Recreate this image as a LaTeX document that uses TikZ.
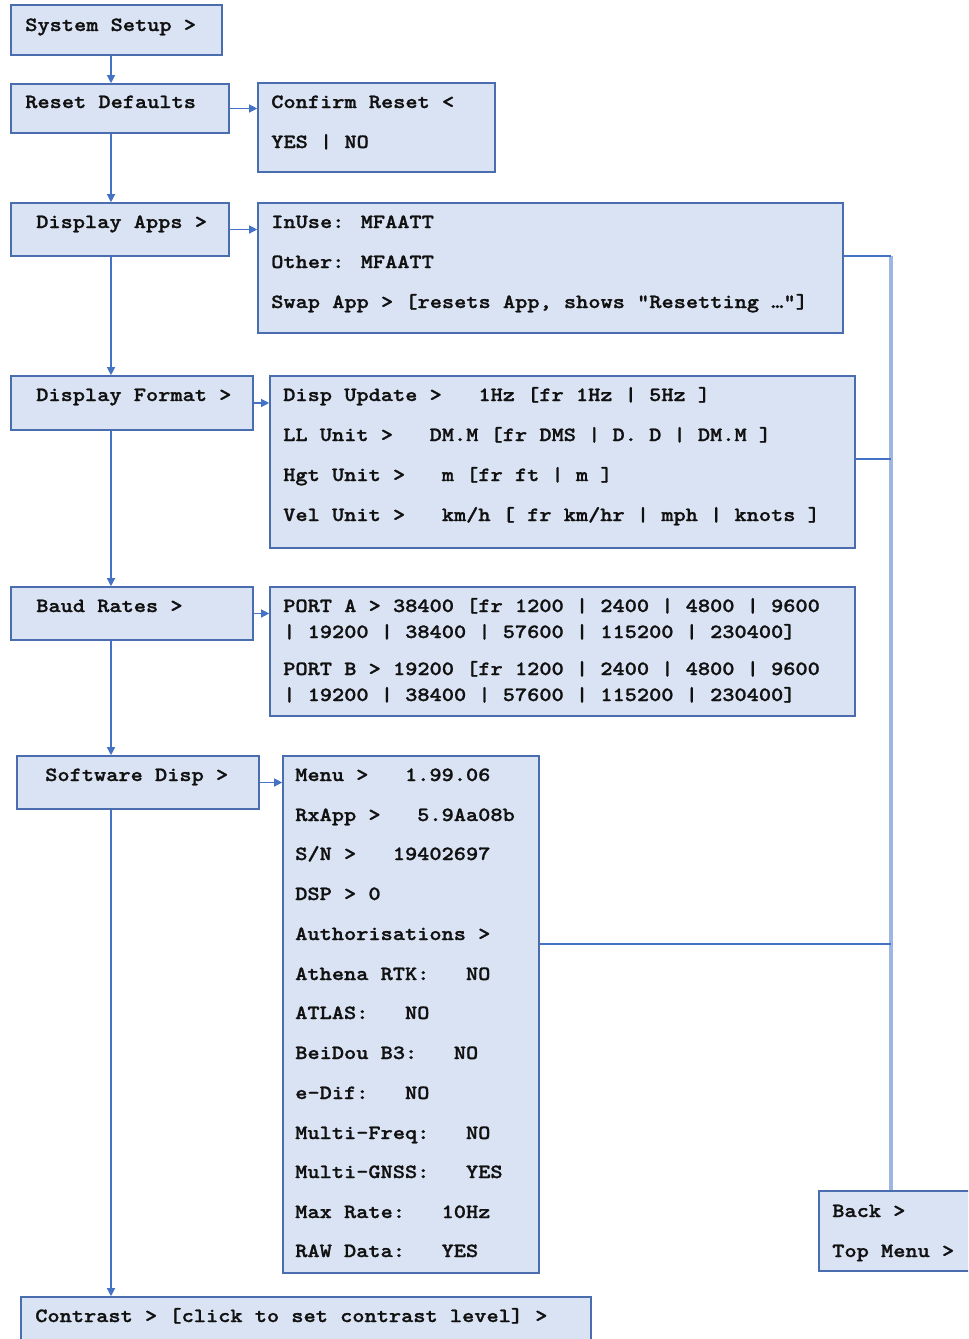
\documentclass[tikz,border=0pt]{standalone}
\usepackage{fontspec}
\newfontfamily\cour{lmmonolt10-bold.otf}[FakeStretch=1.15,FakeBold=1.2]
\usetikzlibrary{arrows.meta,fit}
\definecolor{boxc}{HTML}{DAE3F3}
\definecolor{bordc}{HTML}{4A6DB0}
\definecolor{linec}{HTML}{4472C4}
\definecolor{sidec}{HTML}{9DB7E2}
\definecolor{txtc}{HTML}{111111}
\begin{document}
\begin{tikzpicture}[x=0.75pt,y=-0.75pt,
 box/.style={draw=bordc, fill=boxc, line width=1.2pt, inner sep=0pt},
 txt/.style={anchor=base west, inner sep=0pt, font=\cour\fontsize{15.15pt}{18pt}\selectfont, text=txtc},
 conn/.style={draw=linec, line width=0.9pt, -{Triangle[length=6pt,width=6pt]}},
 side/.style={draw=sidec, line width=2.4pt},
 link/.style={draw=linec, line width=1.2pt}]
\useasboundingbox (0,0) rectangle (968,1339);
\clip (0,0) rectangle (968,1339);
\coordinate (spine) at (111,0);

% left column boxes
\node[box, fit={(11,5) (222,55)}] (ss) {};
\node[txt] (tss) at (25,31) {System Setup >};
\node[box, fit={(11,84) (229,133)}] (rd) {};
\node[txt] (trd) at (25,108) {Reset Defaults};
\node[box, fit={(11,203) (229,256)}] (da) {};
\node[txt] (tda) at (36,228) {Display Apps >};
\node[box, fit={(11,376) (253,430)}] (df) {};
\node[txt] (tdf) at (36,401) {Display Format >};
\node[box, fit={(11,587) (253,640)}] (br) {};
\node[txt] (tbr) at (36,612) {Baud Rates >};
\node[box, fit={(17,756) (259,809)}] (sd) {};
\node[txt] (tsd) at (45,781) {Software Disp >};
\node[box, fit={(21,1297) (591,1370)}] (ct) {};
\node[txt] (tct) at (35,1322) {Contrast > [click to set contrast level] >};

% right boxes
\node[box, fit={(258,83) (495,172)}] (cr) {};
\node[txt] (tcr1) at (271,108) {Confirm Reset <};
\node[txt] (tcr2) at (271,148) {YES | NO};

\node[box, fit={(258,203) (843,333)}] (ia) {};
\node[txt] (tia1) at (271,228) {InUse: MFAATT};
\node[txt] (tia2) at (271,268) {Other: MFAATT};
\node[txt] (tia3) at (271,308) {Swap App > [resets App, shows “Resetting …”]};

\node[box, fit={(270,376) (855,548)}] (dd) {};
\node[txt] (tdd1) at (283,401) {Disp Update >~~~1Hz [fr 1Hz | 5Hz ]};
\node[txt] (tdd2) at (283,441) {LL Unit >~~~DM.M [fr DMS | D. D | DM.M ]};
\node[txt] (tdd3) at (283,481) {Hgt Unit >~~~m [fr ft | m ]};
\node[txt] (tdd4) at (283,521) {Vel Unit >~~~km/h [ fr km/hr | mph | knots ]};

\node[box, fit={(270,587) (855,716)}] (pb) {};
\node[txt] (tpb1) at (283,612) {PORT A > 38400 [fr 1200 | 2400 | 4800 | 9600};
\node[txt] (tpb2) at (283,638) {| 19200 | 38400 | 57600 | 115200 | 230400]};
\node[txt] (tpb3) at (283,675) {PORT B > 19200 [fr 1200 | 2400 | 4800 | 9600};
\node[txt] (tpb4) at (283,701) {| 19200 | 38400 | 57600 | 115200 | 230400]};

\node[box, fit={(283,756) (539,1273)}] (mb) {};
\node[txt] (tm1) at (295,781) {Menu >~~~1.99.06};
\node[txt] (tm2) at (295,821) {RxApp >~~~5.9Aa08b};
\node[txt] (tm3) at (295,860) {S/N >~~~19402697};
\node[txt] (tm4) at (295,900) {DSP > 0};
\node[txt] (tm5) at (295,940) {Authorisations >};
\node[txt] (tm6) at (295,980) {Athena RTK:~~~NO};
\node[txt] (tm7) at (295,1019) {ATLAS:~~~NO};
\node[txt] (tm8) at (295,1059) {BeiDou B3:~~~NO};
\node[txt] (tm9) at (295,1099) {e-Dif:~~~NO};
\node[txt] (tm10) at (295,1139) {Multi-Freq:~~~NO};
\node[txt] (tm11) at (295,1178) {Multi-GNSS:~~~YES};
\node[txt] (tm12) at (295,1218) {Max Rate:~~~10Hz};
\node[txt] (tm13) at (295,1257) {RAW Data:~~~YES};

\node[box, fit={(819,1191) (990,1271)}] (bk) {};
\node[txt] (tbk1) at (832,1217) {Back >};
\node[txt] (tbk2) at (832,1257) {Top Menu >};

% spine connectors
\draw[conn] (ss.south -| spine) -- (rd.north -| spine);
\draw[conn] (rd.south -| spine) -- (da.north -| spine);
\draw[conn] (da.south -| spine) -- (df.north -| spine);
\draw[conn] (df.south -| spine) -- (br.north -| spine);
\draw[conn] (br.south -| spine) -- (sd.north -| spine);
\draw[conn] (sd.south -| spine) -- (ct.north -| spine);

% horizontal arrows
\draw[conn] (rd.east) -- (cr.west |- rd.east);
\draw[conn] (da.east) -- (ia.west |- da.east);
\draw[conn] (df.east) -- (dd.west |- df.east);
\draw[conn] (br.east) -- (pb.west |- br.east);
\draw[conn] (sd.east) -- (mb.west |- sd.east);

% right rail
\coordinate (r1) at (891,256);
\coordinate (r2) at (891,459);
\coordinate (r3) at (891,944);
\draw[side] (r1) -- (r1 |- bk.north);
\draw[link] (r1 -| ia.east) -- (r1);
\draw[link] (r2 -| dd.east) -- (r2);
\draw[link] (r3 -| mb.east) -- (r3);
\end{tikzpicture}
\end{document}
